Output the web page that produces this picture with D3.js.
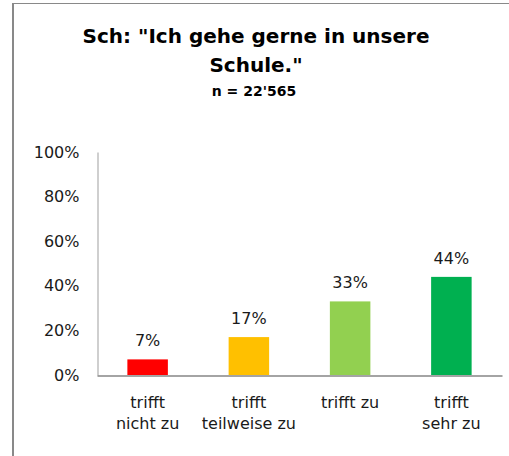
<!DOCTYPE html>
<html>
<head>
<meta charset="utf-8">
<script src="https://cdn.jsdelivr.net/npm/d3@7"></script>
<style>
  body { margin: 0; background: #fff; }
  svg { display: block; font-family: "DejaVu Sans", sans-serif; }
</style>
</head>
<body>
<svg id="chart" width="509" height="456"></svg>
<script>
// chart data
var categories = ["trifft\nnicht zu", "trifft\nteilweise zu", "trifft zu", "trifft\nsehr zu"];
var values = [0.07, 0.17, 0.33, 0.44];
var colors = ["#ff0000", "#ffc000", "#92d050", "#00b050"];
var yTicks = [0, 0.2, 0.4, 0.6, 0.8, 1];
var titleLines = ["Sch: \"Ich gehe gerne in unsere", "Schule.\""];
var subtitle = "n = 22'565";

var svg = d3.select("#chart");

// outer frame (only left and top edges visible)
svg.append("line")
    .attr("x1", 13).attr("y1", 3)
    .attr("x2", 13).attr("y2", 456)
    .attr("stroke", "#898989").attr("stroke-width", 2);
svg.append("line")
    .attr("x1", 12).attr("y1", 3.5)
    .attr("x2", 509).attr("y2", 3.5)
    .attr("stroke", "#898989").attr("stroke-width", 1);

// title
svg.selectAll(".title").data(titleLines).enter()
    .append("text")
    .attr("class", "title")
    .attr("x", 256)
    .attr("y", function(d, i){ return 43 + i * 29; })
    .attr("text-anchor", "middle")
    .style("font-size", "20px")
    .style("font-weight", "bold")
    .text(function(d){ return d; });

svg.append("text")
    .attr("x", 254)
    .attr("y", 96)
    .attr("text-anchor", "middle")
    .style("font-size", "14px")
    .style("font-weight", "bold")
    .text(subtitle);

var x = d3.scaleBand()
    .domain(categories)
    .range([97, 502])
    .paddingInner(0.6)
    .paddingOuter(0.3);

var y = d3.scaleLinear()
    .domain([0, 1])
    .range([375, 152]);

// y axis
var yAxis = svg.append("g")
    .attr("transform", "translate(97.5,0)")
    .call(d3.axisLeft(y).tickValues(yTicks).tickFormat(d3.format(".0%")).tickSize(0).tickPadding(18));
yAxis.select(".domain").attr("stroke", "#bfbfbf").attr("stroke-width", 1.5);
yAxis.selectAll("text")
    .style("font-size", "16px")
    .style("font-family", "DejaVu Sans")
    .attr("fill", "#1a1a1a");

// bars
svg.selectAll(".bar").data(values).enter()
    .append("rect")
    .attr("class", "bar")
    .attr("x", function(d, i){ return x(categories[i]); })
    .attr("y", function(d){ return y(d); })
    .attr("width", x.bandwidth())
    .attr("height", function(d){ return y(0) - y(d); })
    .attr("fill", function(d, i){ return colors[i]; });

// value labels
svg.selectAll(".val").data(values).enter()
    .append("text")
    .attr("class", "val")
    .attr("x", function(d, i){ return x(categories[i]) + x.bandwidth()/2; })
    .attr("y", function(d){ return y(d) - 13; })
    .attr("text-anchor", "middle")
    .style("font-size", "16px")
    .attr("fill", "#1a1a1a")
    .text(function(d){ return Math.round(d * 100) + "%"; });

// x axis
var xAxis = svg.append("g")
    .attr("transform", "translate(0,375.5)")
    .call(d3.axisBottom(x).tickSize(0).tickFormat(""));
xAxis.select(".domain").attr("stroke", "#868686").attr("stroke-width", 1.5);

// category labels, split on line breaks
svg.selectAll(".cat").data(categories).enter()
    .append("text")
    .attr("class", "cat")
    .attr("text-anchor", "middle")
    .style("font-size", "16px")
    .attr("fill", "#1a1a1a")
    .each(function(d){
        var t = d3.select(this);
        var cx = x(d) + x.bandwidth()/2;
        d.split("\n").forEach(function(line, j){
            t.append("tspan")
                .attr("x", cx)
                .attr("y", 408 + j * 21)
                .text(line);
        });
    });
</script>
</body>
</html>
